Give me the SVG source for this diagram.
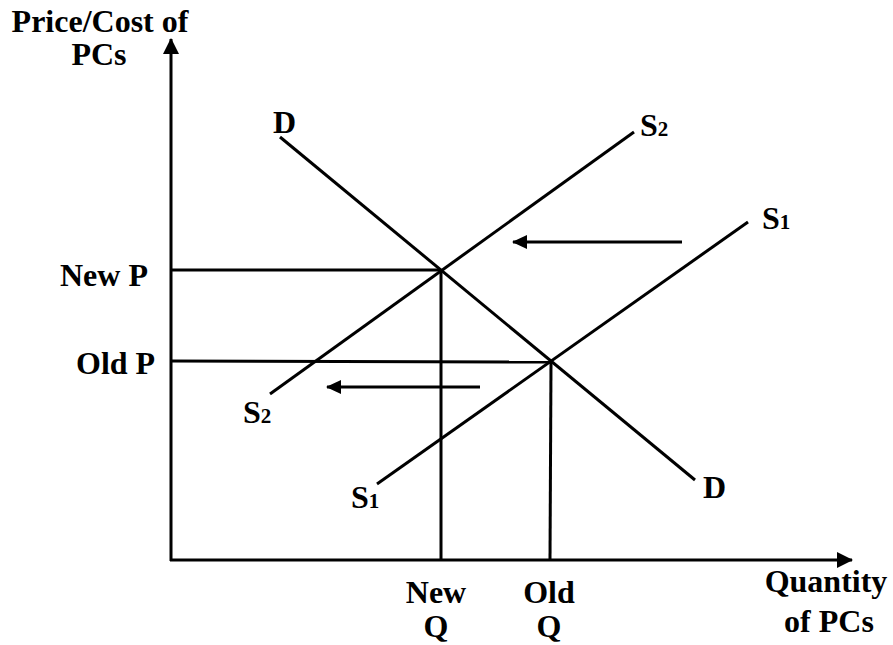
<svg xmlns="http://www.w3.org/2000/svg" width="893" height="645" viewBox="0 0 893 645">
<defs>
<marker id="ah" markerWidth="16" markerHeight="16" viewBox="0 0 16 16" refX="15" refY="8" orient="auto" markerUnits="userSpaceOnUse">
<path d="M0,0 L16,8 L0,16 Z" fill="#000"/>
</marker>
<marker id="ah2" markerWidth="15" markerHeight="14" viewBox="0 0 15 14" refX="14" refY="7" orient="auto" markerUnits="userSpaceOnUse">
<path d="M0,0 L15,7 L0,14 Z" fill="#000"/>
</marker>
</defs>
<style>
text{font-family:"Liberation Serif","Times New Roman",serif;font-weight:bold;font-size:32px;fill:#000}
.sub{font-size:21px}
.m{text-anchor:middle}
line{stroke:#000;stroke-width:3;fill:none}
</style>
<rect width="893" height="645" fill="#fff"/>
<g id="connectors">
<line id="y-axis" x1="171" y1="561" x2="171" y2="39" marker-end="url(#ah)"/>
<line id="x-axis" x1="170" y1="560" x2="852" y2="560" marker-end="url(#ah)"/>
<line id="demand" x1="280" y1="137" x2="695" y2="480"/>
<line id="supply2" x1="270" y1="394" x2="634" y2="132"/>
<line id="supply1" x1="377" y1="484" x2="748" y2="222"/>
<line id="newP" x1="171" y1="270" x2="441" y2="270"/>
<line id="oldP" x1="171" y1="361" x2="551" y2="362"/>
<line id="newQ" x1="441" y1="270" x2="441" y2="560"/>
<line id="oldQ" x1="551" y1="362" x2="550" y2="560"/>
<line id="shift-upper" x1="682" y1="242" x2="513" y2="242" marker-end="url(#ah2)"/>
<line id="shift-lower" x1="480" y1="387" x2="327" y2="387" marker-end="url(#ah2)"/>
</g>
<g id="y-label">
<text class="m" x="100" y="32">Price/Cost of</text>
<text class="m" x="99" y="65">PCs</text>
</g>
<g id="x-label">
<text class="m" x="826" y="592">Quantity</text>
<text class="m" x="829" y="632">of PCs</text>
</g>
<g id="label-newP"><text x="60" y="286">New P</text></g>
<g id="label-oldP"><text x="76" y="374">Old P</text></g>
<g id="label-newQ">
<text class="m" x="436" y="603">New</text>
<text class="m" x="436" y="637">Q</text>
</g>
<g id="label-oldQ">
<text class="m" x="549" y="603">Old</text>
<text class="m" x="549" y="637">Q</text>
</g>
<g id="label-D-top"><text x="273" y="133">D</text></g>
<g id="label-D-bottom"><text x="703" y="498">D</text></g>
<g id="label-S2-top"><text x="640" y="136">S<tspan class="sub">2</tspan></text></g>
<g id="label-S1-top"><text x="762" y="229">S<tspan class="sub">1</tspan></text></g>
<g id="label-S2-bottom"><text x="243" y="423">S<tspan class="sub">2</tspan></text></g>
<g id="label-S1-bottom"><text x="351" y="508">S<tspan class="sub">1</tspan></text></g>
</svg>
